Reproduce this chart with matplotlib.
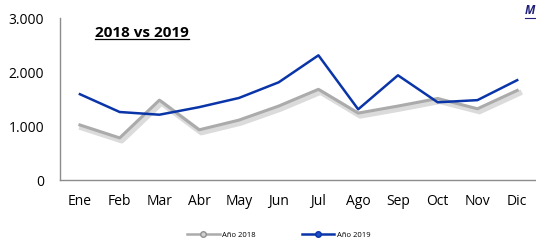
import matplotlib
matplotlib.use('Agg')
import matplotlib.pyplot as plt
import matplotlib.patheffects as pe
from matplotlib.ticker import FuncFormatter

# ── 데이터 ──────────────────────────────────────
months = ['Ene', 'Feb', 'Mar', 'Abr', 'May', 'Jun',
          'Jul', 'Ago', 'Sep', 'Oct', 'Nov', 'Dic']
ventas_2018 = [1020, 780, 1480, 930, 1110, 1370, 1680, 1240, 1370, 1510, 1320, 1660]
ventas_2019 = [1590, 1260, 1210, 1350, 1520, 1810, 2310, 1310, 1940, 1440, 1480, 1850]
y_ticks = [0, 1000, 2000, 3000]

plt.rcParams['font.family'] = ['Open Sans', 'DejaVu Sans']

fig = plt.figure(figsize=(5.36, 2.41), dpi=100)
ax = fig.add_axes([0.112, 0.253, 0.89, 0.672])

x = list(range(len(months)))
shadow = [pe.SimpleLineShadow(offset=(1.5, -2), shadow_color='#888888', alpha=0.3, linewidth=4),
          pe.Normal()]
ax.plot(x, ventas_2018, color='#ABABAB', lw=2.2, path_effects=shadow,
        label='Año 2018', zorder=2)
ax.plot(x, ventas_2019, color='#0A35A8', lw=1.8, label='Año 2019', zorder=3)

ax.set_xlim(-0.5, len(months) - 0.5)
ax.set_ylim(0, 3000)
ax.set_yticks(y_ticks)
ax.yaxis.set_major_formatter(FuncFormatter(lambda v, p: f'{int(v):,}'.replace(',', '.')))
ax.set_xticks(x)
ax.set_xticklabels(months)
ax.tick_params(axis='both', length=0, labelsize=10, colors='black')
ax.tick_params(axis='y', pad=11.5)
ax.tick_params(axis='x', pad=10)

for s in ['top', 'right']:
    ax.spines[s].set_visible(False)
for s in ['left', 'bottom']:
    ax.spines[s].set_color('#8C8C8C')
    ax.spines[s].set_linewidth(1.0)

# 제목 (밑줄 포함)
title = fig.text(0.178, 0.865, '2018 vs 2019', fontsize=11, fontweight='bold',
                 ha='left', va='center')
fig.canvas.draw()
bb = title.get_window_extent().transformed(fig.transFigure.inverted())
fig.add_artist(plt.Line2D([bb.x0, bb.x1], [bb.y0 + 0.002, bb.y0 + 0.002],
                          color='black', lw=0.9))

# 오른쪽 위 텍스트 (잘린 축 제목)
mtxt = fig.text(0.998, 0.985, 'M', fontsize=8.5, fontweight='bold', style='italic',
                color='#1F1F7A', ha='right', va='top')
fig.canvas.draw()
mb = mtxt.get_window_extent().transformed(fig.transFigure.inverted())
fig.add_artist(plt.Line2D([mb.x0, mb.x1], [mb.y0 - 0.004, mb.y0 - 0.004],
                          color='#1F1F7A', lw=0.8))

# 범례
h1 = plt.Line2D([], [], color='#ABABAB', lw=1.8, marker='o', markersize=4,
                markerfacecolor='#D0D0D0', markeredgecolor='#909090')
h2 = plt.Line2D([], [], color='#0A35A8', lw=1.8, marker='o', markersize=4,
                markerfacecolor='#1F4FC8', markeredgecolor='#0A35A8')
fig.legend([h1, h2], ['Año 2018', 'Año 2019'], loc='center', ncol=2,
           bbox_to_anchor=(0.52, 0.025), frameon=False, fontsize=5.5,
           handlelength=4.3, columnspacing=6, handletextpad=0.3)

fig.savefig('out.png', dpi=100)
